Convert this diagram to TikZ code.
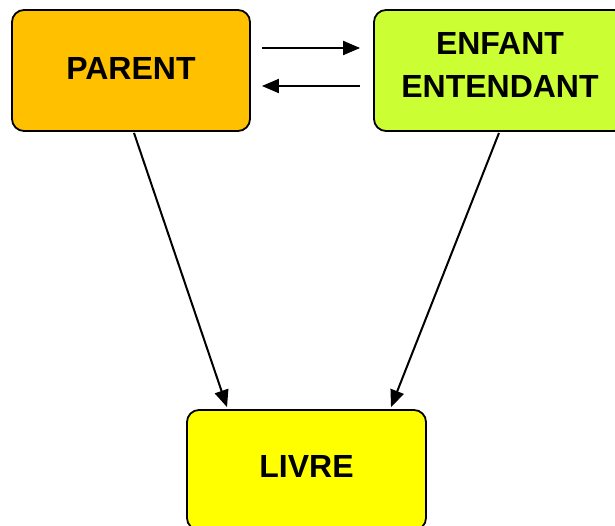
\documentclass[tikz,border=0pt]{standalone}
\usepackage{fontspec}
\setmainfont{Liberation Sans}
\usetikzlibrary{arrows.meta}
\definecolor{parentc}{HTML}{FFC000}
\definecolor{enfantc}{HTML}{CCFF33}
\definecolor{livrec}{HTML}{FFFF00}
\tikzset{
  box/.style={draw=black, line width=1.8pt, rounded corners=12pt, align=center,
    font=\fontsize{32}{43}\selectfont\bfseries, inner sep=0pt},
  arr/.style={line width=2pt, -{Triangle[length=17pt,width=14pt]}}
}
\begin{document}
\begin{tikzpicture}[x=1pt,y=-1pt]
\useasboundingbox (0,0) rectangle (615,526);
\clip (0,0) rectangle (615,526);
\node[box, fill=parentc, minimum width=238pt, minimum height=121pt] (parent) at (131,70.5) {PARENT\rule[-4pt]{0pt}{4pt}};
\node[box, fill=enfantc, minimum width=252pt, minimum height=121pt] (enfant) at (500,70.5) {\begin{tabular}{@{}c@{}}ENFANT\\ENTENDANT\rule[-18.6pt]{0pt}{18.6pt}\end{tabular}};
\node[box, fill=livrec, minimum width=239pt, minimum height=120pt] (livre) at (306.5,470) {LIVRE\rule[-7pt]{0pt}{7pt}};
\draw[arr] ([xshift=11pt,yshift=22.5pt]parent.east) -- ([xshift=-13pt,yshift=22.5pt]enfant.west);
\draw[arr] ([xshift=-13pt,yshift=-15.5pt]enfant.west) -- ([xshift=11pt,yshift=-15.5pt]parent.east);
\draw[arr] ([xshift=3pt,yshift=-1pt]parent.south) -- ([xshift=-79.5pt,yshift=2pt]livre.north);
\draw[arr] ([xshift=-1pt,yshift=-1pt]enfant.south) -- ([xshift=84.5pt,yshift=2pt]livre.north);
\end{tikzpicture}
\end{document}
